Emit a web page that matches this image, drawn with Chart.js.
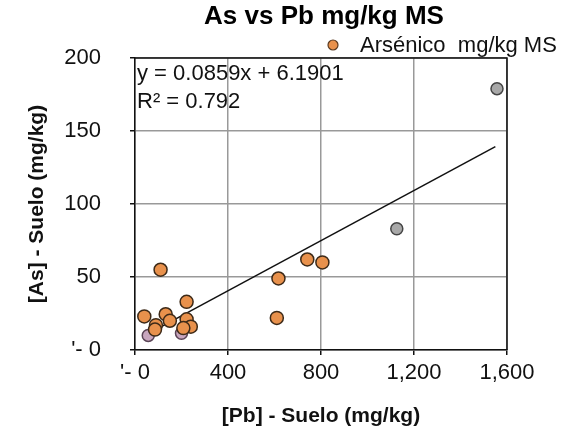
<!DOCTYPE html>
<html>
<head>
<meta charset="utf-8">
<script src="https://cdn.jsdelivr.net/npm/chart.js@4"></script>
<style>
  html, body { margin: 0; padding: 0; background: #fff; }
  #wrap { width: 572px; height: 433px; }
</style>
</head>
<body>
<div id="wrap"><canvas id="asPbChart" width="572" height="433"></canvas></div>
<script>
// Arsénico vs Plomo, suelo (mg/kg)
const pbSuelo = [110, 40, 132, 150, 90, 86, 222, 222, 240, 208, 617, 610, 741, 806];
const asSuelo = [55, 23, 24.5, 20, 17, 14, 33, 21, 16, 15, 49, 22, 62, 60];
const pbGris = [1557, 1126];
const asGris = [179, 83];
const pbLila = [57, 200];
const asLila = [10, 11.5];
const trendX = [40, 1550];
const slope = 0.0859;
const intercept = 6.1901;
const xTickLabels = ["'- 0", '400', '800', '1,200', '1,600'];
const yTickLabels = ["'- 0", '50', '100', '150', '200'];

const toPts = (xs, ys) => xs.map((x, i) => ({ x: x, y: ys[i] }));
const font = "'Liberation Sans', Arial, sans-serif";

const headerPlugin = {
  id: 'headerPlugin',
  afterDraw(chart) {
    const ctx = chart.ctx;
    const a = chart.chartArea;
    ctx.save();
    // frame
    ctx.strokeStyle = '#111';
    ctx.lineWidth = 1.5;
    ctx.beginPath();
    ctx.moveTo(a.left, a.top);
    ctx.lineTo(a.right, a.top);
    ctx.lineTo(a.right, a.bottom);
    ctx.stroke();
    // title
    ctx.fillStyle = '#000';
    ctx.font = 'bold 26px ' + font;
    ctx.textAlign = 'center';
    ctx.textBaseline = 'middle';
    ctx.fillText('As vs Pb mg/kg MS', (a.left + a.right) / 2 + 3, 17);
    // legend
    ctx.beginPath();
    ctx.arc(333, 45, 5, 0, Math.PI * 2);
    ctx.fillStyle = '#E8914C';
    ctx.fill();
    ctx.strokeStyle = '#5a3a20';
    ctx.lineWidth = 1.2;
    ctx.stroke();
    ctx.fillStyle = '#111';
    ctx.font = '22px ' + font;
    ctx.textAlign = 'left';
    ctx.fillText('Arsénico  mg/kg MS', 360, 46);
    // trend equation
    ctx.fillText('y = ' + slope + 'x + ' + intercept, a.left + 2, 74);
    ctx.fillText('R² = 0.792', a.left + 2, 102);
    ctx.restore();
  }
};

new Chart(document.getElementById('asPbChart'), {
  type: 'scatter',
  data: {
    datasets: [
      {
        label: 'Arsénico  mg/kg MS',
        data: toPts(pbSuelo, asSuelo),
        backgroundColor: '#E8914C',
        borderColor: '#3d2a18',
        borderWidth: 1.5,
        pointRadius: 6.5,
        order: 1
      },
      {
        label: 'gris',
        data: toPts(pbGris, asGris),
        backgroundColor: '#A8A8A8',
        borderColor: '#444',
        borderWidth: 1.5,
        pointRadius: 6,
        order: 1
      },
      {
        label: 'lila',
        data: toPts(pbLila, asLila),
        backgroundColor: '#C8A6BE',
        borderColor: '#5a4456',
        borderWidth: 1.5,
        pointRadius: 6,
        order: 1
      },
      {
        type: 'line',
        label: 'Lineal',
        data: trendX.map(x => ({ x: x, y: slope * x + intercept })),
        borderColor: '#111',
        borderWidth: 1.5,
        pointRadius: 0,
        fill: false,
        order: 10
      }
    ]
  },
  options: {
    responsive: false,
    animation: false,
    layout: { padding: { top: 58, right: 65, left: 0, bottom: 0 } },
    plugins: {
      legend: { display: false },
      title: { display: false },
      tooltip: { enabled: false }
    },
    scales: {
      x: {
        type: 'linear',
        min: 0,
        max: 1600,
        afterBuildTicks: axis => { axis.ticks = [0, 400, 800, 1200, 1600].map(v => ({ value: v })); },
        afterFit: axis => { axis.height = 83; },
        ticks: {
          color: '#111',
          font: { family: font, size: 22 },
          padding: 5,
          maxRotation: 0,
          callback: (v, i) => xTickLabels[i]
        },
        grid: { color: '#999', lineWidth: 1.5, tickLength: 5, tickColor: '#111' },
        border: { color: '#111', width: 1.5 },
        title: {
          display: true,
          text: '[Pb] - Suelo (mg/kg)',
          color: '#111',
          font: { family: font, size: 21, weight: 'bold' },
          padding: { top: 0, bottom: 4 }
        }
      },
      y: {
        type: 'linear',
        min: 0,
        max: 200,
        afterBuildTicks: axis => { axis.ticks = [0, 50, 100, 150, 200].map(v => ({ value: v })); },
        afterFit: axis => { axis.width = 135; },
        ticks: {
          color: '#111',
          font: { family: font, size: 22 },
          padding: 29,
          callback: (v, i) => yTickLabels[i]
        },
        grid: { color: '#999', lineWidth: 1.5, tickLength: 5, tickColor: '#111' },
        border: { color: '#111', width: 1.5 },
        title: {
          display: true,
          text: '[As] - Suelo (mg/kg)',
          color: '#111',
          font: { family: font, size: 21, weight: 'bold' },
          padding: { top: 25, bottom: 0 }
        }
      }
    }
  },
  plugins: [headerPlugin]
});
</script>
</body>
</html>
